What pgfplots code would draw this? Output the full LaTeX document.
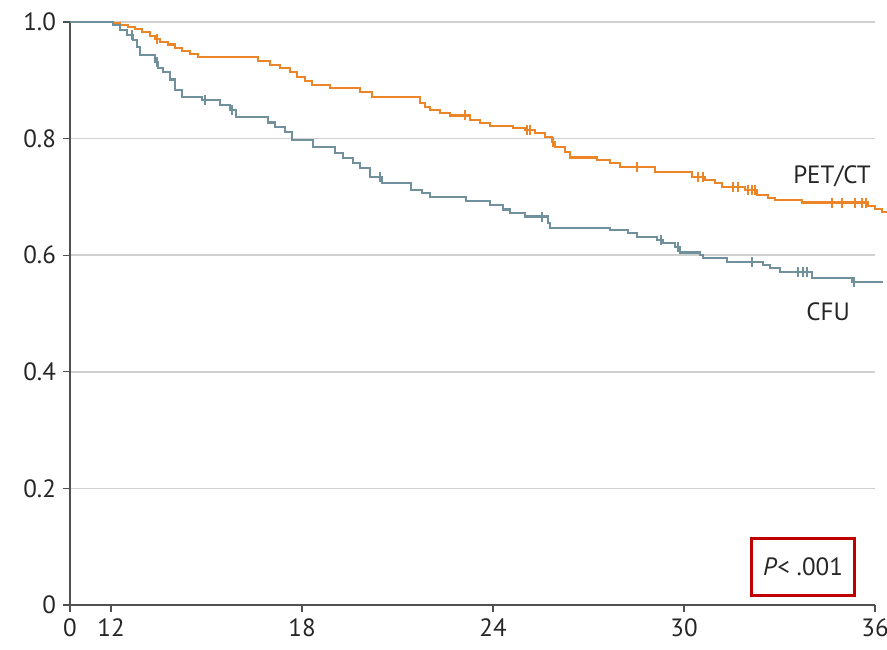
\documentclass[border=0pt]{standalone}
\usepackage{fontspec}
\setmainfont{PT Sans}
\usepackage{pgfplots}
\pgfplotsset{compat=1.18}
\definecolor{petc}{RGB}{235,133,40}
\definecolor{cfuc}{RGB}{112,145,155}
\definecolor{axc}{RGB}{80,80,80}
\definecolor{gridc}{RGB}{208,208,208}
\definecolor{boxred}{RGB}{192,0,0}
\begin{document}
\begin{tikzpicture}
\begin{axis}[
 at={(0pt,0pt)}, anchor=south west,
 scale only axis, width=402.5pt, height=291.5pt,
 xmin=10.712, xmax=36, ymin=0, ymax=1,
 axis lines=left, axis line style={-, draw=axc, line width=0.6pt},
 xtick={10.712,12,18,24,30,36}, xticklabels={0,12,18,24,30,36},
 ytick={0,0.2,0.4,0.6,0.8,1}, yticklabels={0,0.2,0.4,0.6,0.8,1.0},
 ymajorgrids, grid style={gridc, line width=0.8pt},
 tick align=outside, major tick length=3.5pt, tick style={axc, line width=0.6pt},
 ticklabel style={font=\fontsize{12.5}{14}\selectfont, text=black!85},
 /pgf/number format/assume math mode=true,
 clip=false,
]
% PET/CT
\addplot[const plot, petc, line width=1.25pt] coordinates {
(10.712,1.0) (12.00,1.0) (12.06,0.998) (12.28,0.995) (12.53,0.991) (12.75,0.988)
(12.97,0.983) (13.23,0.976) (13.38,0.971) (13.54,0.966) (13.79,0.961) (14.01,0.955)
(14.23,0.950) (14.48,0.945) (14.73,0.940) (16.62,0.933) (17.00,0.926) (17.31,0.921)
(17.62,0.914) (17.84,0.906) (18.09,0.899) (18.31,0.892) (18.88,0.887) (19.82,0.880)
(20.20,0.871) (21.71,0.861) (21.86,0.854) (22.02,0.849) (22.34,0.844) (22.65,0.840)
(23.28,0.832) (23.59,0.827) (23.91,0.822) (24.63,0.818) (25.01,0.815) (25.32,0.810)
(25.63,0.803) (25.85,0.794) (25.95,0.786) (26.26,0.777) (26.42,0.768) (27.27,0.763)
(27.68,0.758) (27.99,0.751) (29.09,0.743) (30.25,0.734) (30.66,0.729) (30.98,0.724)
(31.20,0.717) (31.92,0.712) (32.30,0.703) (32.64,0.698) (32.86,0.695) (33.71,0.690)
(35.78,0.684) (36.00,0.679) (36.22,0.674) (36.38,0.674)
};
\addplot[only marks, mark=|, mark size=2.5pt, petc, mark options={line width=1pt}] coordinates {
(13.45,0.971) (23.12,0.840) (25.07,0.815) (25.16,0.815) (25.89,0.794) (28.53,0.751)
(30.44,0.734) (30.60,0.734) (31.54,0.717) (31.70,0.717) (32.01,0.712) (32.14,0.712)
(32.23,0.712) (34.65,0.690) (34.97,0.690) (35.37,0.690) (35.59,0.690) (35.72,0.690)
};
% CFU
\addplot[const plot, cfuc, line width=1.25pt] coordinates {
(10.712,1.0) (12.00,1.0) (12.06,0.995) (12.28,0.986) (12.50,0.978) (12.69,0.969)
(12.82,0.957) (12.91,0.943) (13.38,0.931) (13.48,0.921) (13.63,0.914) (13.85,0.901)
(14.01,0.883) (14.23,0.871) (14.86,0.866) (15.42,0.858) (15.74,0.849) (15.93,0.837)
(16.93,0.828) (17.15,0.820) (17.47,0.811) (17.69,0.798) (18.35,0.786) (19.04,0.775)
(19.29,0.767) (19.60,0.758) (19.82,0.750) (20.14,0.734) (20.51,0.724) (21.43,0.712)
(21.77,0.707) (22.02,0.700) (23.15,0.693) (23.91,0.686) (24.32,0.678) (24.54,0.672)
(25.01,0.666) (25.73,0.655) (25.79,0.647) (27.68,0.643) (28.24,0.638) (28.53,0.631)
(29.15,0.626) (29.34,0.621) (29.72,0.614) (29.88,0.605) (30.50,0.600) (30.60,0.595)
(31.35,0.588) (32.48,0.583) (32.70,0.578) (33.02,0.571) (34.02,0.561) (35.28,0.554)
(36.25,0.554)
};
\addplot[only marks, mark=|, mark size=2.5pt, cfuc, mark options={line width=1pt}] coordinates {
(12.66,0.978) (13.45,0.931) (14.95,0.866) (15.80,0.849) (20.45,0.734) (25.54,0.666)
(29.28,0.626) (29.81,0.614) (32.14,0.588) (33.58,0.571) (33.74,0.571) (33.87,0.571)
(35.34,0.554)
};
\node[font=\fontsize{12.5}{14}\selectfont, text=black!85] at (axis cs:34.65,0.736) {PET/CT};
\node[font=\fontsize{12.5}{14}\selectfont, text=black!85] at (axis cs:34.53,0.503) {CFU};
\node[draw=boxred, line width=1.5pt, minimum width=51.5pt, minimum height=28.5pt, inner sep=2pt,
  font=\fontsize{12.5}{14}\selectfont, text=black!85] at (axis cs:33.74,0.065) {\textit{P}< .001};
\end{axis}
\pgfresetboundingbox
\useasboundingbox (-35pt,-22pt) rectangle (408.5pt,302.5pt);
\end{tikzpicture}
\end{document}
